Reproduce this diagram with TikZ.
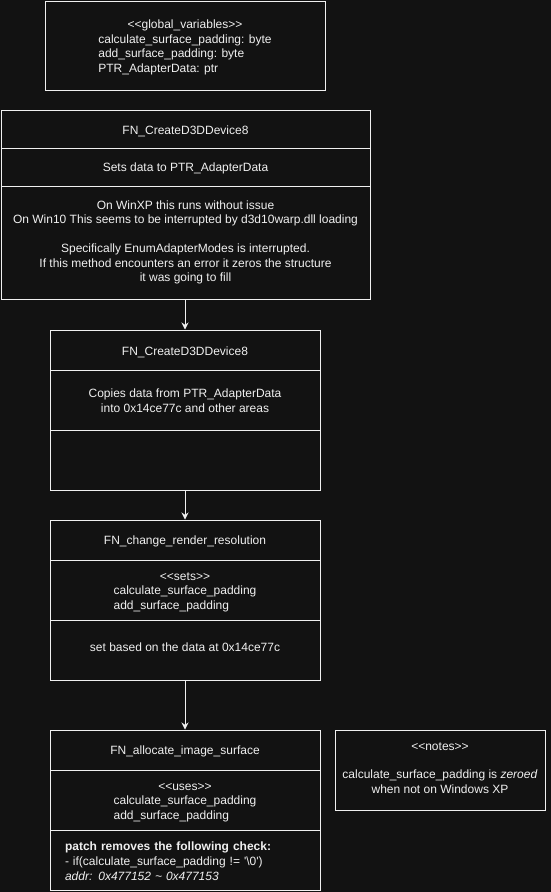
\documentclass[tikz,border=0pt]{standalone}
\usepackage{fontspec}
\setmainfont{Liberation Sans}
\usetikzlibrary{arrows.meta}
\definecolor{bgdark}{HTML}{121212}
\definecolor{ink}{HTML}{F0F0F0}
\newcommand{\stereo}[1]{<\kern0pt<#1>\kern0pt>}
\newcommand{\centrows}[1]{\begin{tabular}{@{}c@{}}#1\end{tabular}}
\newcommand{\leftrows}[2][c]{\begin{tabular}[#1]{@{}l@{}}#2\end{tabular}}
\begin{document}
\begin{tikzpicture}[x=1pt,y=-1pt,
        part/.style={draw=ink,line width=1pt,text=ink,minimum width=#1,inner sep=0pt,
            font=\fontsize{12}{14.2}\selectfont\setbox\strutbox\hbox{\vrule height12.4pt depth1.8pt width0pt}},
        part/.default=270pt,
        flow/.style={draw=ink,line width=1pt,-{Stealth[length=7pt,width=7pt]}}]
        \fill[bgdark] (0,0) rectangle (551,892);
        \useasboundingbox (0,0) rectangle (551,892);

        \node[part=280pt,minimum height=89pt] (globals) at (185,45.5)
            {\centrows{\stereo{global\_variables}\\\leftrows[t]{calculate\_surface\_padding: byte\\add\_surface\_padding: byte\\PTR\_AdapterData: ptr}}};

        \node[part=369pt,minimum height=38pt] (devA) at (185.5,129) {\centrows{FN\_CreateD3DDevice8}};
        \node[part=369pt,minimum height=38pt] (devAset) at (185.5,167) {\centrows{Sets data to PTR\_AdapterData}};
        \node[part=369pt,minimum height=113pt] (devAnote) at (185.5,242.5)
            {\centrows{On WinXP this runs without issue\\On Win10 This seems to be interrupted by d3d10warp.dll loading\\ \\
             Specifically EnumAdapterModes is interrupted.\\If this method encounters an error it zeros the structure\\it was going to fill\\[4pt]}};

        \node[part,minimum height=40pt] (devB) at (185,350) {\centrows{FN\_CreateD3DDevice8}};
        \node[part,minimum height=60pt] (devBcopy) at (185,400) {\centrows{Copies data from PTR\_AdapterData\\into 0x14ce77c and other areas}};
        \node[part,minimum height=60pt] (devBrest) at (185,460) {};

        \node[part,minimum height=40pt] (resol) at (185,540) {\centrows{FN\_change\_render\_resolution}};
        \node[part,minimum height=60pt] (resolsets) at (185,590)
            {\centrows{\stereo{sets}\\\leftrows[t]{calculate\_surface\_padding\\add\_surface\_padding}}};
        \node[part,minimum height=60pt] (resolnote) at (185,650) {\centrows{set based on the data at 0x14ce77c\\[8pt]}};

        \node[part,minimum height=40pt] (alloc) at (185,750) {\centrows{FN\_allocate\_image\_surface}};
        \node[part,minimum height=60pt] (allocuses) at (185,800)
            {\centrows{\stereo{uses}\\\leftrows[t]{calculate\_surface\_padding\\add\_surface\_padding}}};
        \node[part,minimum height=60pt,text width=240pt,inner xsep=15pt] (allocpatch) at (185,860)
            {\leftrows{\textbf{patch removes the following check:}\\- if(calculate\_surface\_padding != \textquotesingle\textbackslash 0\textquotesingle)\\\textit{addr: 0x477152 \textasciitilde\ 0x477153}}};

        \node[part=210pt,minimum height=80pt] (notes) at (440,770)
            {\centrows{\stereo{notes}\\ \\calculate\_surface\_padding is \textit{zeroed}\\when not on Windows XP\\[7pt]}};

        \draw[flow] (devB.north |- devAnote.south) -- (devB.north);
        \draw[flow] (devBrest.south) -- (resol.north);
        \draw[flow] (resolnote.south) -- (alloc.north);
    \end{tikzpicture}
\end{document}
